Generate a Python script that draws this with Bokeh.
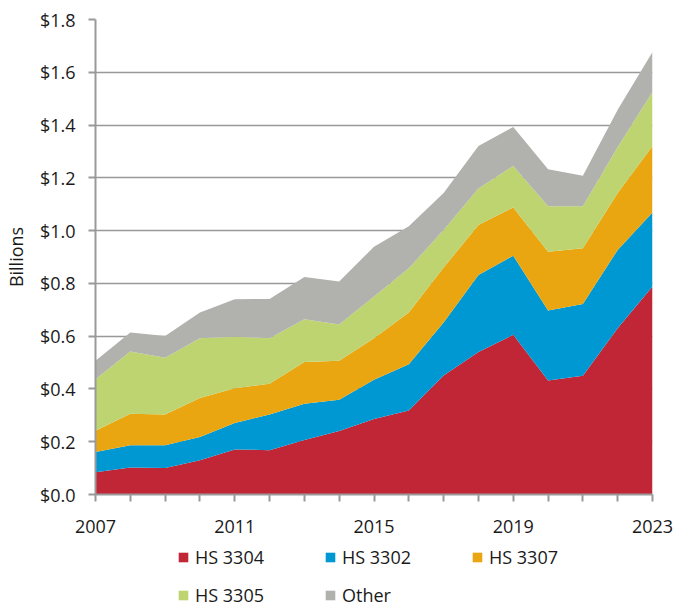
from bokeh.plotting import figure
from bokeh.models import ColumnDataSource, FixedTicker, Legend, LegendItem, Range1d
from bokeh.layouts import column
from bokeh.embed import file_html
from bokeh.resources import INLINE

years = list(range(2007, 2024))
hs3304 = [0.084, 0.102, 0.100, 0.130, 0.171, 0.168, 0.207, 0.241, 0.286, 0.318, 0.451, 0.540, 0.605, 0.432, 0.450, 0.630, 0.788]
hs3302 = [0.077, 0.085, 0.087, 0.088, 0.100, 0.135, 0.137, 0.118, 0.149, 0.176, 0.201, 0.292, 0.300, 0.265, 0.272, 0.297, 0.281]
hs3307 = [0.081, 0.119, 0.116, 0.148, 0.132, 0.117, 0.158, 0.148, 0.157, 0.196, 0.208, 0.189, 0.183, 0.223, 0.211, 0.216, 0.252]
hs3305 = [0.195, 0.236, 0.215, 0.226, 0.195, 0.172, 0.162, 0.137, 0.158, 0.167, 0.142, 0.139, 0.157, 0.172, 0.159, 0.174, 0.204]
other = [0.070, 0.072, 0.083, 0.098, 0.142, 0.149, 0.160, 0.163, 0.189, 0.160, 0.141, 0.161, 0.148, 0.141, 0.116, 0.141, 0.152]

series_names = ["HS 3304", "HS 3302", "HS 3307", "HS 3305", "Other"]
colors = ["#C12637", "#0098D3", "#EAA611", "#BDD471", "#B1B2AE"]
y_ticks = [0.0, 0.2, 0.4, 0.6, 0.8, 1.0, 1.2, 1.4, 1.6, 1.8]
y_tick_labels = ["$0.0", "$0.2", "$0.4", "$0.6", "$0.8", "$1.0", "$1.2", "$1.4", "$1.6", "$1.8"]
x_label_years = [2007, 2011, 2015, 2019, 2023]

source = ColumnDataSource(data={
    "year": years,
    "HS 3304": hs3304,
    "HS 3302": hs3302,
    "HS 3307": hs3307,
    "HS 3305": hs3305,
    "Other": other,
})

FONT = "Open Sans"
TXT = "#1a1a1a"
GRID = "#999999"

p = figure(width=673, height=540, output_backend="svg", toolbar_location=None,
           x_range=Range1d(2007, 2023), y_range=Range1d(0, 1.8),
           min_border_left=94, min_border_right=21, min_border_top=19, min_border_bottom=46)

rs = p.varea_stack(stackers=series_names, x="year", color=colors, source=source)

p.outline_line_color = None
p.xgrid.grid_line_color = None
p.ygrid.grid_line_color = GRID
p.ygrid.grid_line_width = 1.5
p.ygrid.level = "underlay"

p.yaxis.ticker = FixedTicker(ticks=y_ticks)
p.yaxis.major_label_overrides = {t: l for t, l in zip(y_ticks, y_tick_labels)}
p.xaxis.ticker = FixedTicker(ticks=years)
p.xaxis.major_label_overrides = {y: (str(y) if y in x_label_years else "") for y in years}

for ax in (p.xaxis[0], p.yaxis[0]):
    ax.axis_line_color = GRID
    ax.axis_line_width = 2
    ax.major_tick_line_color = GRID
    ax.major_tick_line_width = 2
    ax.major_tick_out = 7
    ax.major_tick_in = 0
    ax.minor_tick_line_color = None
    ax.major_label_text_font = FONT
    ax.major_label_text_font_size = "18px"
    ax.major_label_text_color = TXT
    ax.axis_label_text_font = FONT
    ax.axis_label_text_font_size = "18px"
    ax.axis_label_text_color = TXT
    ax.axis_label_text_font_style = "normal"

p.yaxis.major_label_standoff = 13
p.xaxis.major_label_standoff = 18
p.yaxis.axis_label = "Billions"
p.yaxis.axis_label_standoff = 9

# legend panel below the chart (its frame is aligned with the chart's frame)
lp = figure(width=673, height=66, output_backend="svg", toolbar_location=None,
            x_axis_type=None, y_axis_type=None, x_range=Range1d(0, 1), y_range=Range1d(0, 1),
            min_border_left=0, min_border_right=0, min_border_top=0, min_border_bottom=0)
lp.outline_line_color = None
lp.xgrid.grid_line_color = None
lp.ygrid.grid_line_color = None
off = ColumnDataSource(data={"l": [5], "r": [6], "b": [5], "t": [6]})
lrs = [lp.quad(left="l", right="r", bottom="b", top="t", fill_color=c, line_color=None, source=off)
       for c in colors]

leg = Legend(items=[LegendItem(label=n, renderers=[r]) for n, r in zip(series_names, lrs)],
             orientation="horizontal", ncols=3, location=(82, -1),
             glyph_width=12, glyph_height=12, label_standoff=6, spacing=14, label_width=115,
             padding=0, margin=0, border_line_color=None, background_fill_alpha=0,
             label_text_font=FONT, label_text_font_size="18px", label_text_color=TXT)
lp.add_layout(leg)

layout = column(p, lp, spacing=0)
open("out.html", "w").write(file_html(layout, INLINE))
